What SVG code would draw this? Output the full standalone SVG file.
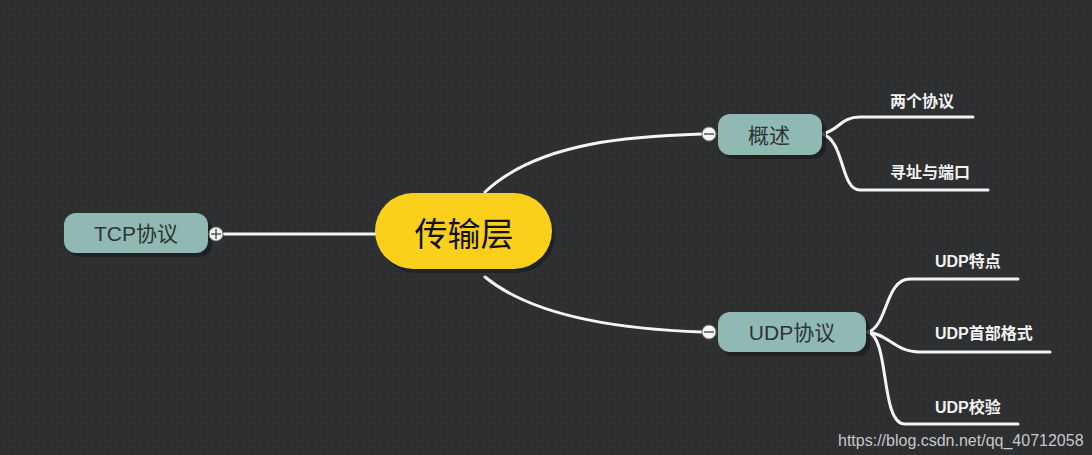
<svg xmlns="http://www.w3.org/2000/svg" width="1092" height="455" viewBox="0 0 1092 455">
<defs>
<style>
.main{font-family:"Noto Sans CJK SC","Noto Sans CJK JP",sans-serif;font-size:33px;fill:#111;text-anchor:middle;dominant-baseline:central}
.node{fill:#90b9b3}
.shadow{fill:#1c1e1f;opacity:0.8}
.nt{font-family:"Liberation Sans","Noto Sans CJK SC",sans-serif;font-size:21px;fill:#2e3434;text-anchor:middle;dominant-baseline:central}
.lt{font-family:"Liberation Sans","Noto Sans CJK SC",sans-serif;font-size:16px;font-weight:bold;fill:#f2f2f2}
.ln{fill:none;stroke:#f4f4f4;stroke-width:3;stroke-linecap:round}
.tog{fill:#f4f4f4;stroke:#777;stroke-width:1}
.sym{stroke:#555;stroke-width:1.5}
</style>
<pattern id="dots" width="6" height="6" patternUnits="userSpaceOnUse"><rect width="6" height="6" fill="#2d2f31"/><circle cx="3" cy="3" r="0.6" fill="#383a3c"/></pattern>
</defs>
<rect width="1092" height="455" fill="url(#dots)"/>
<g id="connectors">
<path class="ln" d="M224 234 H376"/>
<path class="ln" d="M485 192 C540 140 640 136 702 134"/>
<path class="ln" d="M485 277 C540 322 640 330 702 332"/>
<path class="ln" d="M822 134 C840 130 840 117 860 117 H973"/>
<path class="ln" d="M822 134 C845 140 840 190 860 190 H988"/>
<path class="ln" d="M868 332 C888 326 885 279 910 279 H1018"/>
<path class="ln" d="M868 332 C888 334 895 352 920 352 H1050"/>
<path class="ln" d="M868 332 C890 338 880 424 905 424 H1018"/>
</g>
<g id="center">
<rect x="378" y="197" width="177" height="76" rx="38" class="shadow"/>
<rect x="375" y="193" width="177" height="76" rx="38" fill="#fbd01d"/>
<text class="main" x="464" y="232">传输层</text>
</g>
<g id="tcp">
<rect x="68" y="217" width="144" height="40" rx="12" class="shadow"/>
<rect x="64" y="213" width="144" height="40" rx="12" class="node"/>
<text class="nt" x="136" y="233">TCP协议</text>
<circle class="tog" cx="216" cy="234" r="7"/>
<path class="sym" d="M211 234 H221 M216 229 V239"/>
</g>
<g id="gaishu">
<rect x="722" y="118" width="104" height="41" rx="12" class="shadow"/>
<rect x="718" y="114" width="104" height="41" rx="12" class="node"/>
<text class="nt" x="769" y="135" font-size="22">概述</text>
<circle class="tog" cx="709" cy="134" r="7"/>
<path class="sym" d="M704 134 H714"/>
</g>
<g id="udp">
<rect x="722" y="316" width="148" height="40" rx="12" class="shadow"/>
<rect x="718" y="312" width="148" height="40" rx="12" class="node"/>
<text class="nt" x="792" y="332">UDP协议</text>
<circle class="tog" cx="709" cy="332" r="7"/>
<path class="sym" d="M704 332 H714"/>
</g>
<g id="leaf1"><text class="lt" x="890" y="107">两个协议</text></g>
<g id="leaf2"><text class="lt" x="890" y="178">寻址与端口</text></g>
<g id="leaf3"><text class="lt" x="935" y="267">UDP特点</text></g>
<g id="leaf4"><text class="lt" x="935" y="339">UDP首部格式</text></g>
<g id="leaf5"><text class="lt" x="935" y="413">UDP校验</text></g>
<text x="838" y="446" font-family="Liberation Sans, sans-serif" font-size="16" fill="#c8c8c8">https://blog.csdn.net/qq_40712058</text>
</svg>
